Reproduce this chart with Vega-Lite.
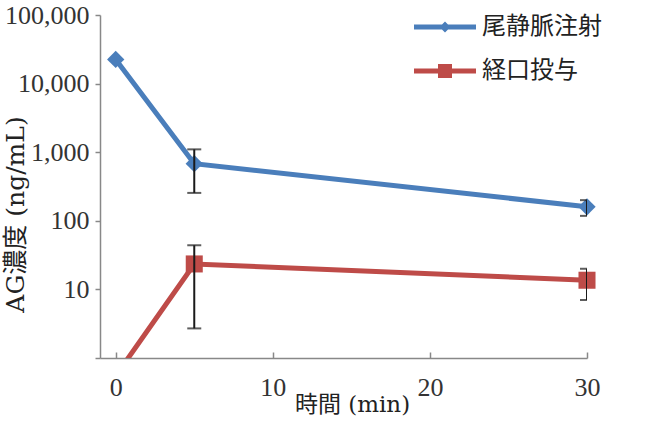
{
  "$schema": "https://vega.github.io/schema/vega-lite/v6.json",
  "width": 487,
  "height": 343,
  "autosize": {"type": "none"},
  "padding": {"left": 100, "top": 15, "right": 75, "bottom": 63},
  "background": "white",
  "config": {"view": {"stroke": null}},
  "data": {
    "values": [
      {"series": "尾静脈注射", "time": 0, "conc": 22500, "lo": null, "hi": null},
      {"series": "尾静脈注射", "time": 5, "conc": 680, "lo": 255, "hi": 1100},
      {"series": "尾静脈注射", "time": 30, "conc": 160, "lo": 118, "hi": 200},
      {"series": "経口投与", "time": 0, "conc": 0.55, "lo": null, "hi": null},
      {"series": "経口投与", "time": 5, "conc": 23.5, "lo": 2.7, "hi": 44},
      {"series": "経口投与", "time": 30, "conc": 13.6, "lo": 7, "hi": 20}
    ]
  },
  "encoding": {
    "x": {
      "field": "time",
      "type": "quantitative",
      "scale": {"domain": [-1, 30], "nice": false, "zero": false},
      "axis": {
        "values": [0, 10, 20, 30],
        "grid": false,
        "domainColor": "#888",
        "domainWidth": 1.5,
        "tickColor": "#888",
        "tickWidth": 1.5,
        "tickSize": -6,
        "labelFlush": false,
        "labelOverlap": false,
        "labelFont": "Liberation Sans Narrow",
        "labelFontSize": 26,
        "labelColor": "#333",
        "labelPadding": 22,
        "title": "時間 (min)",
        "titleFont": "DejaVu Serif, Noto Sans CJK JP",
        "titleFontSize": 23,
        "titleFontWeight": "normal",
        "titleColor": "#222",
        "titleX": 252,
        "titleY": 53,
        "titleAlign": "center",
        "titleBaseline": "alphabetic"
      }
    },
    "y": {
      "field": "conc",
      "type": "quantitative",
      "scale": {"type": "log", "domain": [1, 100000], "nice": false},
      "axis": {
        "values": [1, 10, 100, 1000, 10000, 100000],
        "labelExpr": "datum.value < 2 ? '' : format(datum.value, ',')",
        "grid": false,
        "domainColor": "#888",
        "domainWidth": 1.5,
        "tickColor": "#888",
        "tickWidth": 1.5,
        "tickSize": 5,
        "labelOverlap": false,
        "labelFont": "Liberation Sans Narrow",
        "labelFontSize": 26,
        "labelColor": "#333",
        "labelPadding": 6,
        "title": "AG濃度 (ng/mL)",
        "titleFont": "DejaVu Serif, Noto Sans CJK JP",
        "titleFontSize": 25,
        "titleFontWeight": "normal",
        "titleColor": "#222",
        "titleAngle": -90,
        "titleX": -85,
        "titleY": 199,
        "titleAlign": "center",
        "titleBaseline": "middle"
      }
    }
  },
  "layer": [
    {
      "mark": {"type": "point", "filled": true, "opacity": 1, "size": 1, "clip": true},
      "encoding": {
        "color": {
          "field": "series",
          "type": "nominal",
          "scale": {"domain": ["尾静脈注射", "経口投与"], "range": ["#4A7EBB", "#BE4B48"]},
          "legend": {
            "orient": "none",
            "legendX": 333,
            "legendY": 0,
            "title": null,
            "padding": 0,
            "symbolSize": 400,
            "symbolOpacity": 1,
            "symbolStrokeWidth": 0,
            "labelFont": "Noto Sans CJK JP",
            "labelFontSize": 24,
            "labelColor": "#222",
            "labelOffset": 25,
            "rowPadding": 20
          }
        },
        "shape": {
          "field": "series",
          "type": "nominal",
          "scale": {
            "domain": ["尾静脈注射", "経口投与"],
            "range": [
              "M-3.1,-0.25L3.1,-0.25L3.1,0.25L-3.1,0.25Z M0,-0.55L0.55,0L0,0.55L-0.55,0Z",
              "M-3.1,-0.25L3.1,-0.25L3.1,0.25L-3.1,0.25Z M-0.7,-0.7L0.7,-0.7L0.7,0.7L-0.7,0.7Z"
            ]
          }
        }
      }
    },
    {
      "mark": {"type": "line", "strokeWidth": 5, "clip": true},
      "encoding": {
        "color": {"field": "series", "type": "nominal"}
      }
    },
    {
      "transform": [{"filter": "datum.conc >= 1 && datum.series === '尾静脈注射'"}],
      "mark": {"type": "point", "filled": true, "size": 300, "opacity": 1, "shape": "diamond", "color": "#4A7EBB"}
    },
    {
      "transform": [{"filter": "datum.conc >= 1 && datum.series === '経口投与'"}],
      "mark": {"type": "point", "filled": true, "size": 290, "opacity": 1, "shape": "square", "color": "#BE4B48"}
    },
    {
      "transform": [{"filter": "datum.lo != null"}],
      "mark": {"type": "rule", "color": "#1a1a1a", "strokeWidth": 2, "clip": true},
      "encoding": {
        "y": {"field": "lo", "type": "quantitative"},
        "y2": {"field": "hi"}
      }
    },
    {
      "transform": [{"filter": "datum.lo != null"}],
      "mark": {"type": "tick", "orient": "horizontal", "color": "#1a1a1a", "size": 14, "thickness": 2, "clip": true},
      "encoding": {
        "y": {"field": "lo", "type": "quantitative"}
      }
    },
    {
      "transform": [{"filter": "datum.lo != null"}],
      "mark": {"type": "tick", "orient": "horizontal", "color": "#1a1a1a", "size": 14, "thickness": 2, "clip": true},
      "encoding": {
        "y": {"field": "hi", "type": "quantitative"}
      }
    }
  ]
}
